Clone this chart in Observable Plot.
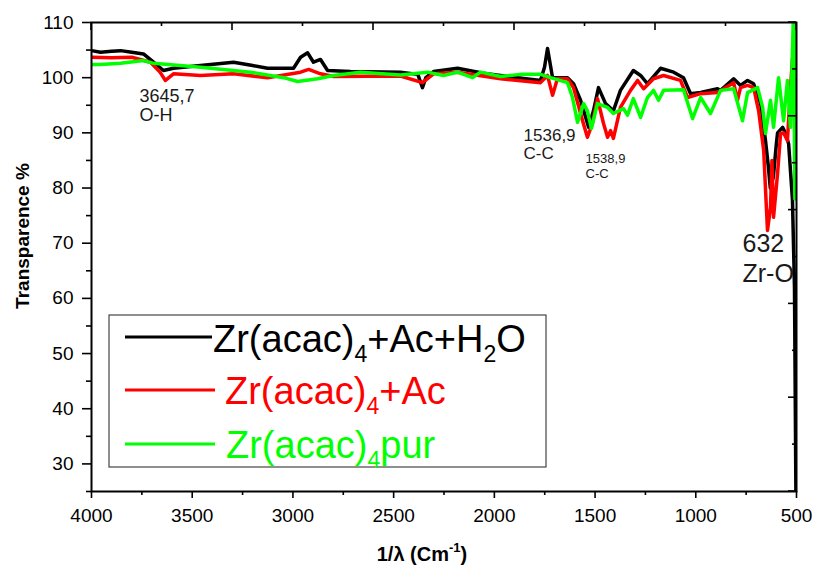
<!DOCTYPE html>
<html>
<head>
<meta charset="utf-8">
<script src="https://cdn.jsdelivr.net/npm/d3@7"></script>
<script src="https://cdn.jsdelivr.net/npm/@observablehq/plot@0.6"></script>
<style>
  body { margin: 0; background: white; }
  #chart svg { display: block; }
</style>
</head>
<body>
<div id="chart"></div>
<script>
// ---- Series (wavenumber cm-1, transmittance %) ----
const blackW = [4000,3955,3900,3856,3800,3742,3692,3643,3593,3459,3295,3200,3126,2997,2962,2927,2898,2863,2828,2714,2466,2380,2357,2340,2302,2183,2054,1885,1771,1751,1736,1711,1637,1607,1572,1532,1508,1483,1448,1409,1374,1310,1274,1240,1175,1110,1061,1026,976,892,877,812,778,743,713,678,654,640,630,615,600,594,569,554,539,520,510,503];
const blackT = [104.9,104.6,104.8,104.9,104.6,104.3,102.8,101.3,101.7,102.2,102.8,102.2,101.7,101.7,103.7,104.5,102.8,103.3,101.3,101.1,101.0,100.6,98.2,100.0,101.1,101.7,100.8,100.0,99.5,101.9,105.3,100.0,100.0,98.9,95.9,91.0,94.0,98.2,95.3,94.0,97.7,101.3,100.4,98.9,101.7,101.0,100.0,97.1,97.3,98.0,97.7,99.8,98.6,99.5,98.9,95.3,88.6,84,80,82,88,90,91,89.9,88,77.8,62,25];

const redW = [4000,3900,3800,3707,3660,3633,3593,3459,3295,3126,2962,2922,2863,2798,2466,2357,2302,2183,1969,1771,1736,1711,1687,1637,1607,1562,1538,1513,1488,1458,1438,1423,1409,1374,1324,1289,1259,1210,1160,1076,1041,976,892,812,793,778,743,713,688,663,644,629,622,614,594,579,564,545,530,520,512,505,500];
const redT = [103.7,103.6,103.7,102.8,101.0,99.5,100.7,100.4,100.7,100.0,101.0,101.5,100.7,100.2,100.3,99.1,100.7,101.0,99.8,99.1,100.4,96.8,99.8,99.8,98.2,92.2,89.2,91.7,96.2,91.7,89.2,90.4,89.0,94.6,97.7,99.5,98.0,99.8,100.4,99.5,96.4,97.1,97.3,99.1,95.9,98.2,98.6,98.2,94.0,86.8,72.3,76.5,85,74.7,82.6,89.9,90,88.6,98,103.5,97,102,100];

const greenW = [4000,3955,3856,3742,3692,3459,3210,3046,2977,2878,2798,2664,2466,2332,2252,2183,2108,2069,1969,1870,1771,1721,1637,1612,1587,1557,1538,1518,1488,1438,1409,1359,1339,1310,1274,1240,1210,1185,1160,1061,1016,976,927,877,812,768,743,693,668,654,629,614,589,564,545,530,515,508,500];
const greenT = [102.4,102.4,102.6,103.1,102.6,101.9,101.0,100.0,99.3,99.8,100.4,101.0,100.5,101.0,100.4,101.0,100.0,101.0,100.2,100.6,100.6,100.0,99.1,96.4,91.9,95.3,94.0,90.8,95.3,94.6,93.5,94.4,93.2,96.2,92.8,96.4,97.7,95.9,97.7,97.8,92.6,96.4,93.5,97.7,98.0,92.2,97.3,98.2,94.6,89.9,95.9,91.0,100.0,92.2,99.5,91.0,112,78,115];

const seriesColors = ["#000000", "#ff0000", "#00ff00"];

// ---- Axes ----
const xDomain = [4000, 500];
const yDomain = [25, 110];
const xMajor = [4000, 3500, 3000, 2500, 2000, 1500, 1000, 500];
const xMinor = [3750, 3250, 2750, 2250, 1750, 1250, 750];
const yMajor = [30, 40, 50, 60, 70, 80, 90, 100, 110];
const yMinor = [25, 35, 45, 55, 65, 75, 85, 95, 105];
const topMajor = [4000, 3300, 2600, 1900, 1200, 500];
const topMinor = [3650, 2950, 2250, 1550, 850];
const rightMajor = [25, 42, 59, 76, 93, 110];
const rightMinor = [33.5, 50.5, 67.5, 84.5, 101.5];

// ---- Annotations ----
const annotations = [
  {w: 3762, t: 98.2, text: "3645,7\nO-H", size: 18, lh: 1.1},
  {w: 1855, t: 90.8, text: "1536,9\nC-C", size: 17, lh: 1.05},
  {w: 1547, t: 86.4, text: "1538,9\nC-C", size: 13, lh: 1.15},
  {w: 768,  t: 72.3, text: "632\nZr-O", size: 25, lh: 1.2}
];

const rows = (W, T, s) => W.map((w, i) => ({w, t: T[i], s}));
const data = [rows(blackW, blackT, 0), rows(redW, redT, 1), rows(greenW, greenT, 2)];

const FONT = "Liberation Sans, Arial, Helvetica, sans-serif";

const chart = Plot.plot({
  width: 816,
  height: 568,
  marginLeft: 91,
  marginRight: 20,
  marginTop: 22,
  marginBottom: 77,
  style: {fontFamily: FONT, background: "white", color: "black", overflow: "visible"},
  x: {domain: xDomain, label: null},
  y: {domain: yDomain, label: null},
  marks: [
    ...annotations.map(a => Plot.text([a], {
      x: "w", y: "t", text: "text", textAnchor: "start", lineAnchor: "top",
      fontSize: a.size, lineHeight: a.lh, fill: "#1a1a1a"
    })),
    ...data.map((d, i) => Plot.line(d, {
      x: "w", y: "t", stroke: seriesColors[i], strokeWidth: 3.5, clip: true,
      strokeLinejoin: "round"
    })),
    Plot.axisX({ticks: xMajor, tickSize: 7, tickPadding: 10, fontSize: 19, tickFormat: d => String(d), strokeWidth: 1.6, label: null}),
    Plot.axisX({ticks: xMinor, tickSize: 4, tickFormat: () => "", strokeWidth: 1.6, label: null}),
    Plot.axisY({ticks: yMajor, tickSize: 9, tickPadding: 9, fontSize: 19, tickFormat: d => String(d), strokeWidth: 1.6, label: null}),
    Plot.axisY({ticks: yMinor, tickSize: 5, tickFormat: () => "", strokeWidth: 1.6, label: null}),
    Plot.frame({stroke: "black", strokeWidth: 2})
  ]
});

document.getElementById("chart").appendChild(chart);

// ---- Extra decorations drawn through the chart's own scales ----
const sx = chart.scale("x"), sy = chart.scale("y");
const svg = d3.select(chart);
const deco = svg.append("g").attr("stroke", "black").attr("stroke-width", 1.6);
const yTop = sy.apply(yDomain[1]);
const xRight = sx.apply(xDomain[1]);
topMajor.forEach(v => deco.append("line").attr("x1", sx.apply(v)).attr("x2", sx.apply(v)).attr("y1", yTop).attr("y2", yTop + 8));
topMinor.forEach(v => deco.append("line").attr("x1", sx.apply(v)).attr("x2", sx.apply(v)).attr("y1", yTop).attr("y2", yTop + 4));
rightMajor.forEach(v => deco.append("line").attr("y1", sy.apply(v)).attr("y2", sy.apply(v)).attr("x1", xRight).attr("x2", xRight - 8));
rightMinor.forEach(v => deco.append("line").attr("y1", sy.apply(v)).attr("y2", sy.apply(v)).attr("x1", xRight).attr("x2", xRight - 4));

// Axis titles
svg.append("text")
  .attr("transform", "translate(29,236) rotate(-90)")
  .attr("text-anchor", "middle")
  .attr("font-family", FONT).attr("font-weight", "bold").attr("font-size", 19)
  .attr("fill", "black")
  .text("Transparence %");

const xt = svg.append("text")
  .attr("x", 422).attr("y", 561)
  .attr("text-anchor", "middle")
  .attr("font-family", FONT).attr("font-weight", "bold").attr("font-size", 20)
  .attr("fill", "black");
xt.append("tspan").text("1/λ (Cm");
xt.append("tspan").attr("font-size", 13).attr("dy", -9).text("-1");
xt.append("tspan").attr("dy", 9).text(")");

// Legend
const lg = svg.append("g").attr("font-family", FONT);
lg.append("rect").attr("x", 109).attr("y", 315).attr("width", 437).attr("height", 152)
  .attr("fill", "white").attr("stroke", "#444").attr("stroke-width", 1.2);
const legendRows = [
  {y: 337, x0: 125, x1: 212, tx: 213, ty: 352, parts: [["Zr(acac)"], ["4", "sub"], ["+Ac+H"], ["2", "sub"], ["O"]]},
  {y: 390, x0: 125, x1: 215, tx: 225, ty: 404, parts: [["Zr(acac)"], ["4", "sub"], ["+Ac"]]},
  {y: 444, x0: 125, x1: 215, tx: 226, ty: 458, parts: [["Zr(acac)"], ["4", "sub"], ["pur"]]}
];
legendRows.forEach((r, i) => {
  lg.append("line").attr("x1", r.x0).attr("x2", r.x1).attr("y1", r.y).attr("y2", r.y)
    .attr("stroke", seriesColors[i]).attr("stroke-width", 3);
  const t = lg.append("text").attr("x", r.tx).attr("y", r.ty)
    .attr("text-anchor", "start")
    .attr("font-size", 38).attr("fill", seriesColors[i]);
  let shifted = false;
  r.parts.forEach(([s, kind]) => {
    const sp = t.append("tspan").text(s);
    if (kind === "sub") { sp.attr("font-size", 23).attr("dy", 10); shifted = true; }
    else if (shifted) { sp.attr("dy", -10); shifted = false; }
  });
});
</script>
</body>
</html>
